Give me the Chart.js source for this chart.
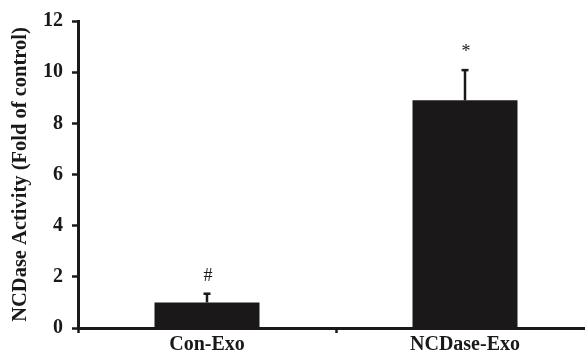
<!DOCTYPE html>
<html>
<head>
<meta charset="utf-8">
<script src="https://cdn.jsdelivr.net/npm/chart.js@4"></script>
<style>
  html, body { margin: 0; padding: 0; background: #ffffff; }
  #wrap { width: 585px; height: 354px; }
</style>
</head>
<body>
<div id="wrap"><canvas id="chart" width="585" height="354"></canvas></div>
<script>
// Groups and measured NCDase activity (fold of control), mean and upper SD
const categories = ['Con-Exo', 'NCDase-Exo'];
const activity = [1.0, 8.9];
const errorUp = [0.34, 1.18];
const significance = ['#', '*'];
const yTicks = [0, 2, 4, 6, 8, 10, 12];

const INK = '#1a1818';
const SERIF = '"Liberation Serif", "Times New Roman", serif';

// The category axis runs on past the right edge of the canvas
const X_OVERHANG = 9;
const widenXAxis = {
  id: 'widenXAxis',
  afterLayout(chart) {
    const x = chart.scales.x;
    x.right += X_OVERHANG;
    x.width += X_OVERHANG;
    x.configure();
  }
};

// Upward error bars and significance marks above each bar
const errorBarPlugin = {
  id: 'errorBars',
  afterDatasetsDraw(chart) {
    const ctx = chart.ctx;
    const y = chart.scales.y;
    const meta = chart.getDatasetMeta(0);
    ctx.save();
    meta.data.forEach((bar, i) => {
      const top = y.getPixelForValue(activity[i] + errorUp[i]);
      const base = y.getPixelForValue(activity[i]);
      ctx.strokeStyle = INK;
      ctx.lineWidth = 2.5;
      ctx.beginPath();
      ctx.moveTo(bar.x, base);
      ctx.lineTo(bar.x, top);
      ctx.stroke();
      ctx.beginPath();
      ctx.moveTo(bar.x - 3.5, top);
      ctx.lineTo(bar.x + 3.5, top);
      ctx.stroke();
      ctx.fillStyle = INK;
      ctx.font = '18px ' + SERIF;
      ctx.textAlign = 'center';
      ctx.textBaseline = 'alphabetic';
      ctx.fillText(significance[i], bar.x + 1, top - 13);
    });
    ctx.restore();
  }
};

new Chart(document.getElementById('chart'), {
  type: 'bar',
  data: {
    labels: categories,
    datasets: [{
      data: activity,
      backgroundColor: INK,
      borderWidth: 0,
      barPercentage: 0.407,
      categoryPercentage: 1.0
    }]
  },
  options: {
    responsive: false,
    animation: false,
    devicePixelRatio: 1,
    layout: { padding: { top: 17, right: 0, left: 0, bottom: 0 } },
    plugins: {
      legend: { display: false },
      tooltip: { enabled: false }
    },
    scales: {
      x: {
        offset: true,
        afterFit(scale) { scale.height = 26; },
        border: { display: true, color: INK, width: 3 },
        grid: {
          offset: true,
          drawOnChartArea: false,
          drawTicks: true,
          tickLength: 5,
          tickWidth: 2.5,
          tickColor: INK
        },
        ticks: {
          padding: 0,
          color: INK,
          font: { family: SERIF, size: 20, weight: 'bold', lineHeight: 1.2 }
        }
      },
      y: {
        min: 0,
        max: 12,
        afterFit(scale) { scale.width = 78; },
        afterBuildTicks(scale) { scale.ticks = yTicks.map(v => ({ value: v })); },
        border: { display: true, color: INK, width: 3 },
        grid: {
          drawOnChartArea: false,
          drawTicks: true,
          tickLength: 6,
          tickWidth: 2.5,
          tickColor: INK
        },
        ticks: {
          padding: 9,
          color: INK,
          font: { family: SERIF, size: 20, weight: 'bold', lineHeight: 1.2 }
        },
        title: {
          display: true,
          text: 'NCDase Activity (Fold of control)',
          color: INK,
          padding: { top: 8, bottom: 0 },
          font: { family: SERIF, size: 20.5, weight: 'bold', lineHeight: 1.2 }
        }
      }
    }
  },
  plugins: [widenXAxis, errorBarPlugin]
});
</script>
</body>
</html>
